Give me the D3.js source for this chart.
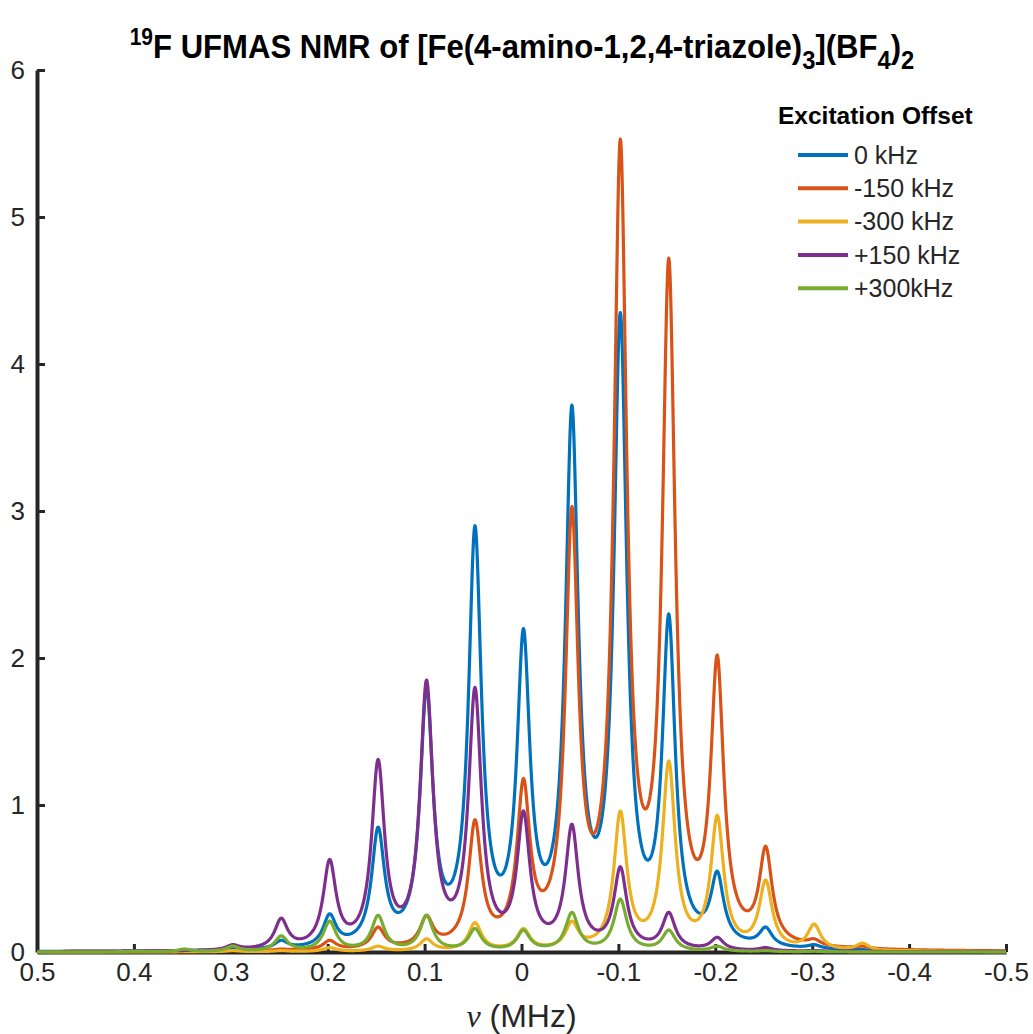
<!DOCTYPE html>
<html>
  <head>
    <meta charset="utf-8" />
    <title>19F UFMAS NMR</title>
    <script src="https://d3js.org/d3.v7.min.js"></script>
    <style>
      body { margin: 0; background: #fff; }
      .tick text { font-family: "Liberation Sans", Arial, sans-serif; font-size: 26px; fill: #262626; }
      .axis path, .axis line { stroke: #262626; }
    </style>
  </head>
  <body>
    <svg id="chart" width="1033" height="1034"></svg>
    <script>
      // sideband positions (MHz), all shifted by the small isotropic offset
      const sidebands = [0.40, 0.35, 0.30, 0.25, 0.20, 0.15, 0.10, 0.05, 0, -0.05, -0.10, -0.15, -0.20, -0.25, -0.30, -0.35, -0.40];
      const isoShift = -0.002;
      const halfWidth = 0.008; // lorentzian HWHM (MHz)

      // apex heights, one per sideband
      const off0 = [0.005, 0.01, 0.03, 0.08, 0.26, 0.85, 1.8, 2.9, 2.2, 3.72, 4.35, 2.3, 0.55, 0.17, 0.05, 0.01, 0.005];
      const offM150 = [0.005, 0.01, 0.01, 0.02, 0.08, 0.17, 0.25, 0.9, 1.18, 3.03, 5.53, 4.72, 2.02, 0.72, 0.09, 0.04, 0.01];
      const offM300 = [0, 0, 0.01, 0.01, 0.03, 0.04, 0.09, 0.2, 0.16, 0.21, 0.96, 1.3, 0.93, 0.49, 0.19, 0.06, 0.01];
      const offP150 = [0, 0.01, 0.05, 0.23, 0.63, 1.31, 1.85, 1.8, 0.96, 0.87, 0.58, 0.27, 0.1, 0.03, 0.01, 0, 0];
      const offP300 = [0.005, 0.02, 0.04, 0.11, 0.21, 0.25, 0.25, 0.16, 0.15, 0.27, 0.36, 0.15, 0.04, 0.01, 0.005, 0, 0];

      const seriesNames = ["0 kHz", "-150 kHz", "-300 kHz", "+150 kHz", "+300kHz"];
      const seriesColors = ["#0072BD", "#D95319", "#EDB120", "#7E2F8E", "#77AC30"];
      const seriesHeights = [off0, offM150, offM300, offP150, offP300];

      const xTicks = [0.5, 0.4, 0.3, 0.2, 0.1, 0, -0.1, -0.2, -0.3, -0.4, -0.5];
      const yTicks = [0, 1, 2, 3, 4, 5, 6];

      const width = 1033, height = 1034;
      const margin = { top: 70, right: 27, bottom: 82, left: 37 };

      const svg = d3.select("#chart");

      const x = d3.scaleLinear().domain([0.5, -0.5]).range([margin.left, width - margin.right]);
      const y = d3.scaleLinear().domain([0, 6]).range([height - margin.bottom, margin.top]);

      // lorentzian line shape, unit height
      const lor = d => (halfWidth * halfWidth) / (d * d + halfWidth * halfWidth);
      const centers = sidebands.map(s => s + isoShift);

      // find amplitudes so the summed curve hits the read apex heights
      function solveAmps(h) {
        const n = centers.length;
        const A = centers.map(ci => centers.map(cj => lor(ci - cj)));
        const b = h.slice();
        for (let k = 0; k < n; k++) {
          for (let i = k + 1; i < n; i++) {
            const f = A[i][k] / A[k][k];
            for (let j = k; j < n; j++) A[i][j] -= f * A[k][j];
            b[i] -= f * b[k];
          }
        }
        const a = new Array(n).fill(0);
        for (let i = n - 1; i >= 0; i--) {
          let s = b[i];
          for (let j = i + 1; j < n; j++) s -= A[i][j] * a[j];
          a[i] = s / A[i][i];
        }
        return a.map(v => Math.max(0, v));
      }

      const grid = d3.range(0, 2001).map(i => 0.5 - i * 0.0005);
      const series = seriesHeights.map((h, k) => {
        const amps = solveAmps(h);
        return {
          name: seriesNames[k],
          color: seriesColors[k],
          points: grid.map(v => [v, d3.sum(amps, (a, j) => a * lor(v - centers[j]))])
        };
      });

      // axes (drawn first, spectra sit on top)
      const xAxis = svg.append("g")
        .attr("class", "axis")
        .attr("transform", `translate(0,${height - margin.bottom})`)
        .call(d3.axisBottom(x).tickValues(xTicks).tickSizeInner(-8).tickSizeOuter(0).tickPadding(11)
          .tickFormat(d => String(+d.toFixed(1))));
      xAxis.select(".domain").attr("stroke-width", 4);
      xAxis.selectAll(".tick line").attr("stroke-width", 3);

      const yAxis = svg.append("g")
        .attr("class", "axis")
        .attr("transform", `translate(${margin.left},0)`)
        .call(d3.axisLeft(y).tickValues(yTicks).tickSizeInner(-8).tickSizeOuter(0).tickPadding(12)
          .tickFormat(d3.format("d")));
      yAxis.select(".domain").attr("stroke-width", 4);
      yAxis.selectAll(".tick line").attr("stroke-width", 3);

      const line = d3.line().x(d => x(d[0])).y(d => y(d[1]));

      svg.append("g").selectAll("path")
        .data(series)
        .join("path")
        .attr("d", d => line(d.points))
        .attr("fill", "none")
        .attr("stroke", d => d.color)
        .attr("stroke-width", 3.2)
        .attr("stroke-linejoin", "round");

      // title, squeezed horizontally to the width it has in the figure
      const title = svg.append("text")
        .attr("text-anchor", "middle")
        .attr("font-family", "'Liberation Sans', Arial, sans-serif")
        .attr("font-weight", "bold")
        .attr("font-size", 34)
        .attr("fill", "#000");
      const sup = (t) => title.append("tspan").attr("font-size", 23).attr("dy", -13).text(t);
      const sub = (t) => title.append("tspan").attr("font-size", 26).attr("dy", 11).text(t);
      const norm = (t, dy) => title.append("tspan").attr("dy", dy).text(t);
      sup("19");
      norm("F UFMAS NMR of [Fe(4-amino-1,2,4-triazole)", 13);
      sub("3");
      norm("](BF", -11);
      sub("4");
      norm(")", -11);
      sub("2");
      const tw = title.node().getBBox().width;
      title.attr("transform", `translate(522,58) scale(${785 / tw},1)`);

      // x label
      const xl = svg.append("text")
        .attr("x", x(0))
        .attr("y", 1027)
        .attr("text-anchor", "middle")
        .attr("font-size", 32)
        .attr("fill", "#262626");
      xl.append("tspan").attr("font-family", "'Liberation Serif', 'Times New Roman', serif").attr("font-style", "italic").text("\u03BD");
      xl.append("tspan").attr("font-family", "'Liberation Sans', Arial, sans-serif").text(" (MHz)");

      // legend
      const legend = svg.append("g").attr("transform", "translate(778,0)");
      legend.append("text")
        .attr("x", 0).attr("y", 124)
        .attr("font-family", "'Liberation Sans', Arial, sans-serif")
        .attr("font-weight", "bold")
        .attr("font-size", 24.5)
        .text("Excitation Offset");
      const item = legend.selectAll(".item")
        .data(series)
        .join("g")
        .attr("class", "item")
        .attr("transform", (d, i) => `translate(0,${155 + i * 33.3})`);
      item.append("line")
        .attr("x1", 20).attr("x2", 70)
        .attr("stroke", d => d.color)
        .attr("stroke-width", 4);
      item.append("text")
        .attr("x", 76).attr("y", 0)
        .attr("dy", "0.35em")
        .attr("font-family", "'Liberation Sans', Arial, sans-serif")
        .attr("font-size", 25)
        .attr("fill", "#262626")
        .text(d => d.name);
    </script>
  </body>
</html>
